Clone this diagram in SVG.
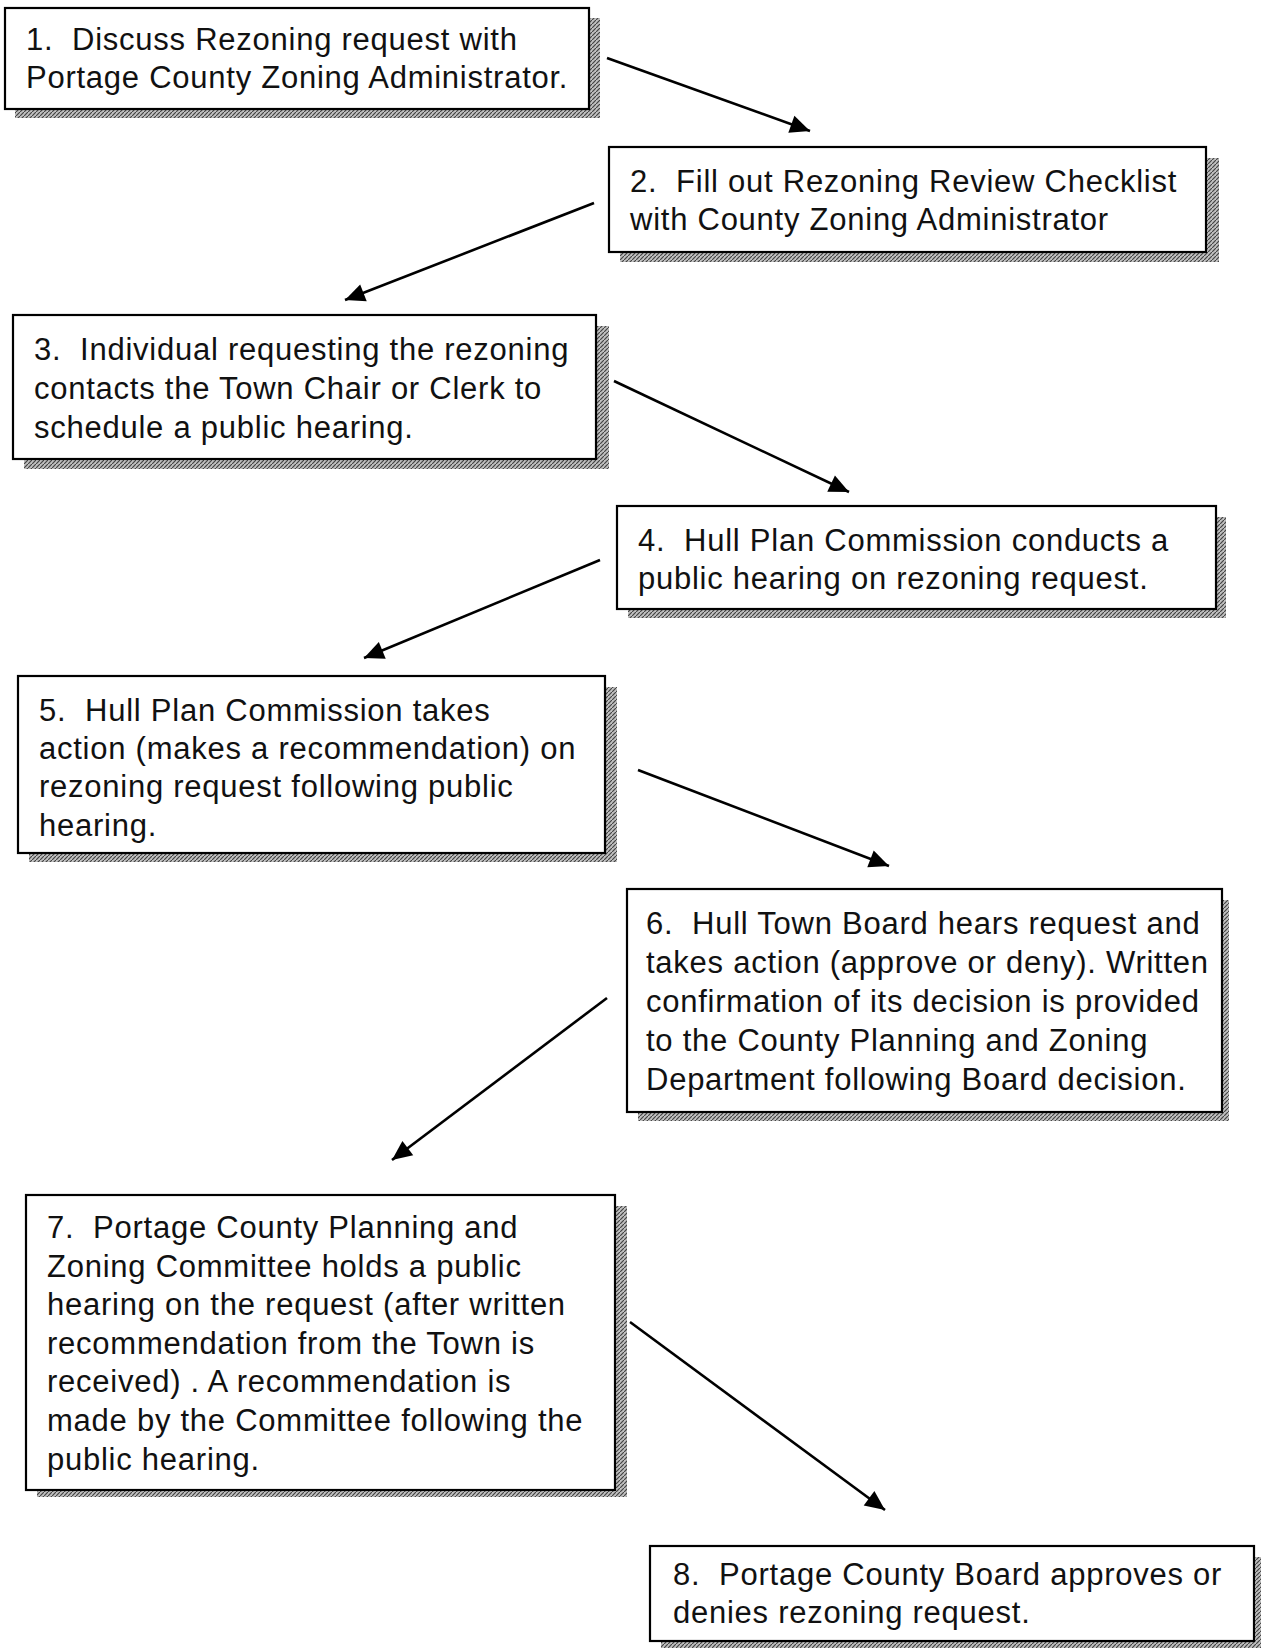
<svg xmlns="http://www.w3.org/2000/svg" width="1261" height="1648" viewBox="0 0 1261 1648">
<style>
.box{fill:#fff;stroke:#000;stroke-width:2.2}
.sh{fill:url(#hatch)}
.t{font-family:"Liberation Sans",Arial,sans-serif;font-size:31px;fill:#111;letter-spacing:0.75px;white-space:pre}
.c{stroke:#000;stroke-width:2.6;fill:none;marker-end:url(#ah)}
</style>
<defs>
<pattern id="hatch" width="4" height="4" patternUnits="userSpaceOnUse">
<rect width="4" height="4" fill="#c0c0c0"/>
<path d="M0,4 L4,0" stroke="#444" stroke-width="1.2"/>
</pattern>
<marker id="ah" viewBox="0 0 10 10" refX="10" refY="5" markerWidth="10" markerHeight="9" markerUnits="userSpaceOnUse" orient="auto" overflow="visible">
<path d="M-12,-5 L10,5 L-12,15 Z" fill="#000"/>
</marker>
</defs>
<rect width="1261" height="1648" fill="#fff"/>

<g id="connectors">
<line class="c" x1="607" y1="58" x2="810" y2="131"/>
<line class="c" x1="594" y1="203" x2="345" y2="300"/>
<line class="c" x1="614" y1="381" x2="849" y2="492"/>
<line class="c" x1="600" y1="560" x2="364" y2="658"/>
<line class="c" x1="638" y1="770" x2="889" y2="866"/>
<line class="c" x1="607" y1="998" x2="392" y2="1160"/>
<line class="c" x1="630" y1="1322" x2="885" y2="1510"/>
</g>

<g id="node1">
<rect class="sh" x="15" y="18" width="585" height="100"/>
<rect class="box" x="5" y="8" width="584" height="101"/>
<text class="t" x="26" y="50" xml:space="preserve">1.  Discuss Rezoning request with</text>
<text class="t" x="26" y="88" xml:space="preserve">Portage County Zoning Administrator.</text>
</g>

<g id="node2">
<rect class="sh" x="620" y="158" width="599" height="104"/>
<rect class="box" x="609" y="147" width="597" height="105"/>
<text class="t" x="630" y="192" xml:space="preserve">2.  Fill out Rezoning Review Checklist</text>
<text class="t" x="630" y="230" xml:space="preserve">with County Zoning Administrator</text>
</g>

<g id="node3">
<rect class="sh" x="24" y="326" width="585" height="143"/>
<rect class="box" x="13" y="315" width="583" height="144"/>
<text class="t" x="34" y="360" xml:space="preserve">3.  Individual requesting the rezoning</text>
<text class="t" x="34" y="399" xml:space="preserve">contacts the Town Chair or Clerk to</text>
<text class="t" x="34" y="438" xml:space="preserve">schedule a public hearing.</text>
</g>

<g id="node4">
<rect class="sh" x="628" y="517" width="598" height="101"/>
<rect class="box" x="617" y="506" width="599" height="103"/>
<text class="t" x="638" y="551" xml:space="preserve">4.  Hull Plan Commission conducts a</text>
<text class="t" x="638" y="589" xml:space="preserve">public hearing on rezoning request.</text>
</g>

<g id="node5">
<rect class="sh" x="29" y="687" width="588" height="175"/>
<rect class="box" x="18" y="676" width="587" height="177"/>
<text class="t" x="39" y="721" xml:space="preserve">5.  Hull Plan Commission takes</text>
<text class="t" x="39" y="759" xml:space="preserve">action (makes a recommendation) on</text>
<text class="t" x="39" y="797" xml:space="preserve">rezoning request following public</text>
<text class="t" x="39" y="836" xml:space="preserve">hearing.</text>
</g>

<g id="node6">
<rect class="sh" x="638" y="900" width="591" height="221"/>
<rect class="box" x="627" y="889" width="595" height="223"/>
<text class="t" x="646" y="934" xml:space="preserve">6.  Hull Town Board hears request and</text>
<text class="t" x="646" y="973" xml:space="preserve">takes action (approve or deny). Written</text>
<text class="t" x="646" y="1012" xml:space="preserve">confirmation of its decision is provided</text>
<text class="t" x="646" y="1051" xml:space="preserve">to the County Planning and Zoning</text>
<text class="t" x="646" y="1090" xml:space="preserve">Department following Board decision.</text>
</g>

<g id="node7">
<rect class="sh" x="37" y="1206" width="590" height="291"/>
<rect class="box" x="26" y="1195" width="589" height="295"/>
<text class="t" x="47" y="1238" xml:space="preserve">7.  Portage County Planning and</text>
<text class="t" x="47" y="1277" xml:space="preserve">Zoning Committee holds a public</text>
<text class="t" x="47" y="1315" xml:space="preserve">hearing on the request (after written</text>
<text class="t" x="47" y="1354" xml:space="preserve">recommendation from the Town is</text>
<text class="t" x="47" y="1392" xml:space="preserve">received) . A recommendation is</text>
<text class="t" x="47" y="1431" xml:space="preserve">made by the Committee following the</text>
<text class="t" x="47" y="1470" xml:space="preserve">public hearing.</text>
</g>

<g id="node8">
<rect class="sh" x="661" y="1557" width="600" height="91"/>
<rect class="box" x="650" y="1546" width="604" height="95"/>
<text class="t" x="673" y="1585" xml:space="preserve">8.  Portage County Board approves or</text>
<text class="t" x="673" y="1623" xml:space="preserve">denies rezoning request.</text>
</g>
</svg>
